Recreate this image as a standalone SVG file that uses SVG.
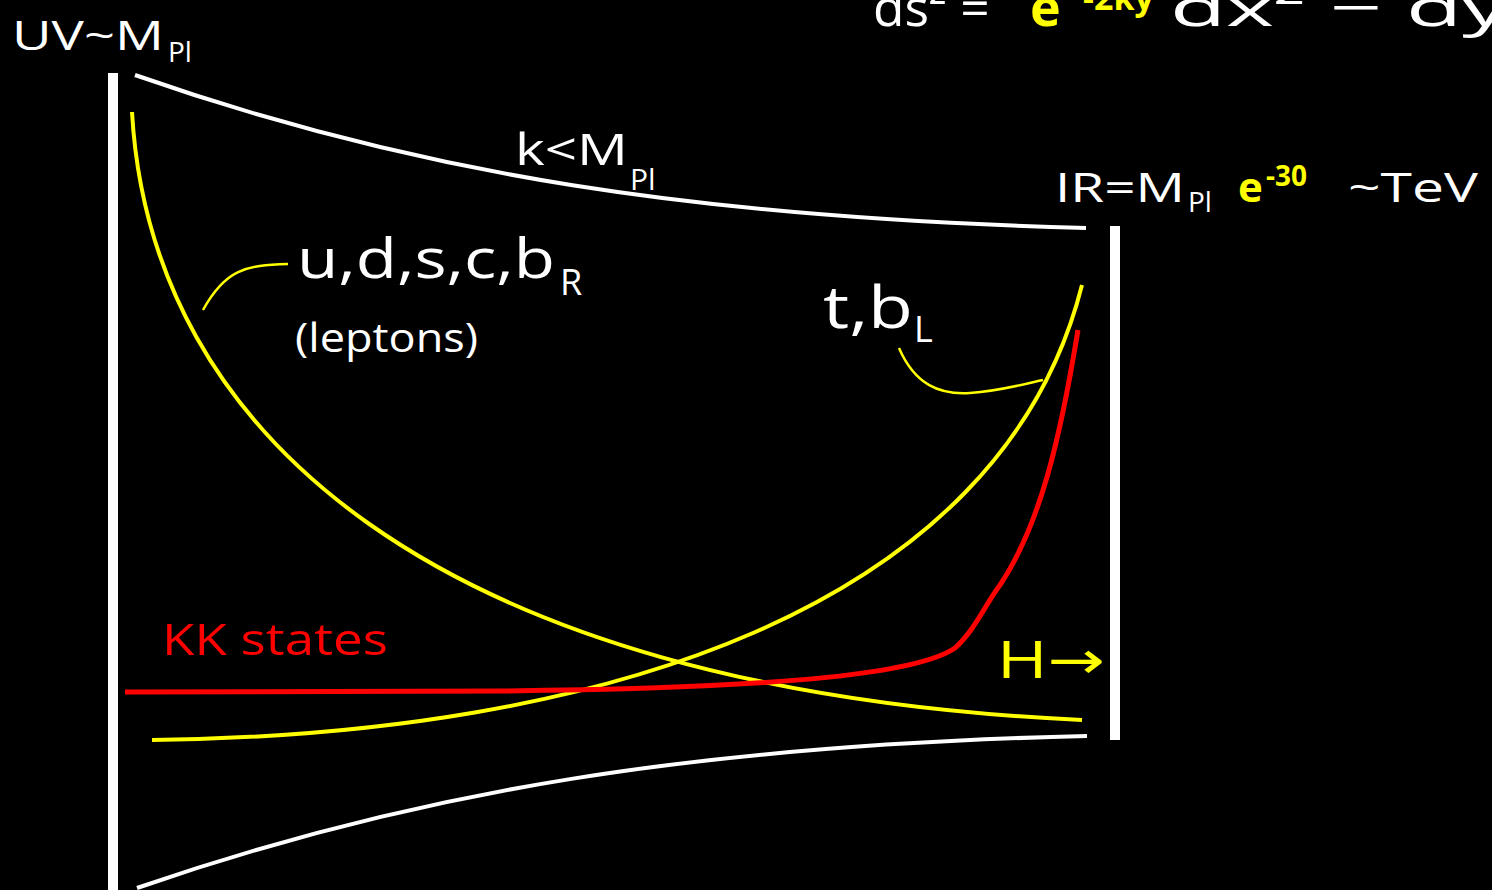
<svg xmlns="http://www.w3.org/2000/svg" width="1492" height="890" viewBox="0 0 1492 890">
<style>
text{font-family:"Open Sans","DejaVu Sans",sans-serif;}
.w{fill:#fff}
.y{fill:#ffff00}
.r{fill:#ff0000}
.bar{fill:#fff}
.wl{fill:none;stroke:#fff;stroke-width:4;stroke-linecap:butt}
.yl{fill:none;stroke:#ffff00;stroke-width:4}
.yt{fill:none;stroke:#ffff00;stroke-width:2.5}
.rl{fill:none;stroke:#ff0000;stroke-width:5}
</style>
<rect x="0" y="0" width="1492" height="890" fill="#000"/>
<g id="uv-brane"><rect class="bar" x="108" y="73" width="10" height="817"/></g>
<g id="ir-brane"><rect class="bar" x="1110" y="226" width="10" height="514"/></g>
<g id="connectors">
<path class="wl" d="M135,75 C 420,175 700,218 1086,228"/>
<path class="wl" d="M137,888 C 420,790 700,745 1087,736"/>
<path class="yl" d="M132,112 C 150,430 430,690 1082,720"/>
<path class="yl" d="M152,740 C 600,735 1000,610 1082,285"/>
<path class="rl" d="M125,692 L 500,691 C 800,688 920,672 955,648 C 975,630 985,605 1000,585 C 1040,525 1060,440 1078,330"/>
<path class="yt" d="M203,310 C 225,270 245,265 288,264"/>
<path class="yt" d="M899,348 C 915,385 940,395 970,393 C 1000,391 1020,385 1043,380"/>
</g>
<g id="metric">
<text x="873" y="26" font-size="52" class="w"><tspan textLength="130" lengthAdjust="spacingAndGlyphs">ds² = </tspan><tspan class="y" font-weight="bold" x="1030">e</tspan><tspan class="y" font-weight="bold" font-size="34" x="1083" y="10">-2ky</tspan><tspan x="1170" y="26" textLength="370" lengthAdjust="spacingAndGlyphs">dx² − dy²</tspan></text>
</g>
<g id="uv-label">
<text x="12" y="50" font-size="40" class="w" textLength="152" lengthAdjust="spacingAndGlyphs">UV~M</text>
<text x="168" y="62" font-size="28" class="w">Pl</text>
</g>
<g id="k-label">
<text x="515" y="165" font-size="44" class="w" textLength="113" lengthAdjust="spacingAndGlyphs">k&lt;M</text>
<text x="630" y="190" font-size="30" class="w">Pl</text>
</g>
<g id="ir-label">
<text x="1055" y="202" font-size="40" class="w" textLength="130" lengthAdjust="spacingAndGlyphs">IR=M</text>
<text x="1188" y="212" font-size="28" class="w">Pl</text>
<text x="1238" y="202" font-size="42" class="y" font-weight="bold">e</text>
<text x="1266" y="186" font-size="28" class="y" font-weight="bold">-30</text>
<text x="1348" y="202" font-size="40" class="w" textLength="130" lengthAdjust="spacingAndGlyphs">~TeV</text>
</g>
<g id="light-quarks">
<text x="297" y="278" font-size="54" class="w" textLength="258" lengthAdjust="spacingAndGlyphs">u,d,s,c,b</text>
<text x="560" y="295" font-size="36" class="w">R</text>
<text x="295" y="352" font-size="40" class="w" textLength="183" lengthAdjust="spacingAndGlyphs">(leptons)</text>
</g>
<g id="heavy-quarks">
<text x="823" y="328" font-size="58" class="w" textLength="90" lengthAdjust="spacingAndGlyphs">t,b</text>
<text x="914" y="342" font-size="36" class="w">L</text>
</g>
<g id="kk-label">
<text x="162" y="655" font-size="44" class="r" textLength="226" lengthAdjust="spacingAndGlyphs">KK states</text>
</g>
<g id="higgs-label">
<text x="997" y="678" font-size="52" class="y" textLength="108" lengthAdjust="spacingAndGlyphs">H→</text>
</g>
</svg>
